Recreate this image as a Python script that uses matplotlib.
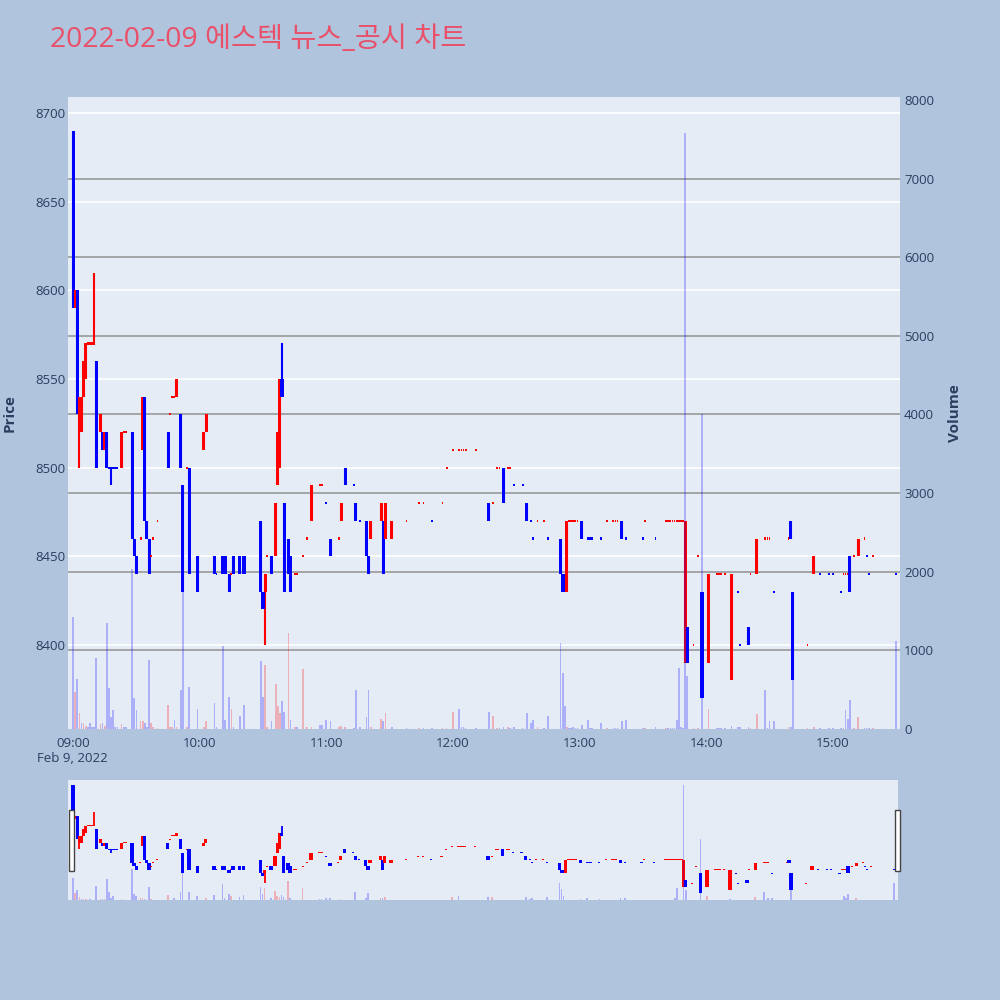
import matplotlib
matplotlib.use("Agg")
import matplotlib.pyplot as plt
from matplotlib.patches import Rectangle
import numpy as np

plt.rcParams['font.family'] = ['Open Sans', 'Noto Sans CJK KR', 'DejaVu Sans']

title = '2022-02-09 에스텍 뉴스_공시 차트'

# minutes after 09:00, OHLC, volume
minutes = [0, 1, 2, 3, 4, 5, 6, 7, 8, 9, 10, 11, 13, 14, 15, 16, 17, 18, 19, 20,
           21, 23, 24, 25, 28, 29, 30, 32, 33, 34, 35, 36, 37, 38, 40, 45, 46, 47, 48, 49,
           51, 52, 54, 55, 59, 62, 63, 67, 68, 71, 72, 74, 75, 76, 79, 81, 89, 90, 91, 92,
           94, 96, 97, 98, 99, 100, 102, 103, 105, 106, 109, 111, 113, 117, 118, 120, 122, 126, 127, 129,
           133, 134, 136, 139, 140, 141, 146, 147, 148, 151, 158, 164, 166, 170, 175, 177, 180, 183, 184, 185,
           186, 191, 197, 199, 201, 202, 204, 206, 207, 209, 213, 215, 217, 218, 220, 223, 225, 231, 232, 233,
           234, 235, 236, 237, 238, 239, 241, 244, 245, 246, 250, 253, 256, 257, 258, 260, 262, 270, 271, 276,
           281, 282, 283, 284, 285, 286, 287, 288, 289, 290, 291, 294, 296, 298, 301, 305, 306, 307, 309, 312,
           315, 316, 320, 321, 324, 328, 329, 330, 332, 339, 340, 341, 348, 351, 354, 358, 360, 364, 365, 366,
           367, 368, 370, 372, 375, 376, 377, 379, 390]
opens = [8690, 8590, 8600, 8520, 8520, 8540, 8550, 8570, 8570, 8570, 8570, 8560, 8520, 8520, 8510, 8520, 8500, 8500, 8500, 8500,
         8500, 8500, 8520, 8520, 8520, 8460, 8450, 8460, 8510, 8540, 8470, 8460, 8450, 8460, 8470, 8520, 8530, 8540, 8540, 8540,
         8530, 8490, 8500, 8500, 8450, 8510, 8520, 8450, 8440, 8450, 8450, 8440, 8440, 8450, 8450, 8450, 8470, 8430, 8430, 8450,
         8450, 8450, 8490, 8500, 8550, 8480, 8460, 8450, 8440, 8440, 8450, 8460, 8470, 8490, 8490, 8480, 8460, 8460, 8470, 8500,
         8490, 8480, 8470, 8470, 8450, 8460, 8470, 8470, 8460, 8460, 8470, 8480, 8480, 8470, 8480, 8500, 8510, 8510, 8510, 8510,
         8510, 8510, 8480, 8480, 8500, 8500, 8500, 8500, 8500, 8490, 8490, 8480, 8470, 8460, 8470, 8470, 8460, 8460, 8440, 8440,
         8430, 8470, 8470, 8470, 8470, 8470, 8470, 8460, 8460, 8460, 8460, 8470, 8470, 8470, 8470, 8470, 8460, 8460, 8470, 8460,
         8470, 8470, 8470, 8470, 8470, 8470, 8470, 8470, 8470, 8390, 8410, 8400, 8450, 8430, 8390, 8440, 8440, 8440, 8440, 8380,
         8430, 8400, 8410, 8440, 8440, 8460, 8460, 8460, 8430, 8460, 8470, 8430, 8400, 8440, 8440, 8440, 8440, 8430, 8440, 8440,
         8440, 8450, 8450, 8450, 8460, 8450, 8440, 8450, 8440]
highs = [8690, 8600, 8600, 8540, 8540, 8560, 8570, 8570, 8570, 8570, 8610, 8560, 8530, 8520, 8520, 8520, 8500, 8500, 8500, 8500,
         8500, 8520, 8520, 8520, 8520, 8460, 8450, 8460, 8540, 8540, 8470, 8460, 8450, 8460, 8470, 8520, 8530, 8540, 8540, 8550,
         8530, 8490, 8500, 8500, 8450, 8520, 8530, 8450, 8440, 8450, 8450, 8440, 8440, 8450, 8450, 8450, 8470, 8430, 8440, 8450,
         8450, 8480, 8520, 8550, 8570, 8480, 8460, 8450, 8440, 8440, 8450, 8460, 8490, 8490, 8490, 8480, 8460, 8460, 8480, 8500,
         8490, 8480, 8470, 8470, 8450, 8470, 8480, 8470, 8480, 8470, 8470, 8480, 8480, 8470, 8480, 8500, 8510, 8510, 8510, 8510,
         8510, 8510, 8480, 8480, 8500, 8500, 8500, 8500, 8500, 8490, 8490, 8480, 8470, 8460, 8470, 8470, 8460, 8460, 8440, 8440,
         8470, 8470, 8470, 8470, 8470, 8470, 8470, 8460, 8460, 8460, 8460, 8470, 8470, 8470, 8470, 8470, 8460, 8460, 8470, 8460,
         8470, 8470, 8470, 8470, 8470, 8470, 8470, 8470, 8470, 8470, 8410, 8400, 8450, 8430, 8440, 8440, 8440, 8440, 8440, 8440,
         8430, 8400, 8410, 8440, 8460, 8460, 8460, 8460, 8430, 8460, 8470, 8430, 8400, 8450, 8440, 8440, 8440, 8430, 8440, 8440,
         8440, 8450, 8450, 8460, 8460, 8450, 8440, 8450, 8440]
lows = [8590, 8590, 8530, 8500, 8520, 8540, 8550, 8570, 8570, 8570, 8570, 8500, 8520, 8510, 8510, 8500, 8500, 8490, 8500, 8500,
        8500, 8500, 8520, 8520, 8460, 8450, 8440, 8460, 8510, 8470, 8460, 8440, 8450, 8460, 8470, 8500, 8530, 8540, 8540, 8540,
        8500, 8430, 8500, 8440, 8430, 8510, 8520, 8440, 8440, 8440, 8440, 8430, 8440, 8440, 8440, 8440, 8430, 8420, 8400, 8450,
        8440, 8450, 8490, 8500, 8540, 8430, 8440, 8430, 8440, 8440, 8450, 8460, 8470, 8490, 8490, 8480, 8450, 8460, 8470, 8490,
        8490, 8470, 8470, 8450, 8440, 8460, 8470, 8440, 8460, 8460, 8470, 8480, 8480, 8470, 8480, 8500, 8510, 8510, 8510, 8510,
        8510, 8510, 8470, 8480, 8500, 8500, 8480, 8500, 8500, 8490, 8490, 8470, 8470, 8460, 8470, 8470, 8460, 8440, 8430, 8430,
        8430, 8470, 8470, 8470, 8470, 8470, 8460, 8460, 8460, 8460, 8460, 8470, 8470, 8470, 8470, 8460, 8460, 8460, 8470, 8460,
        8470, 8470, 8470, 8470, 8470, 8470, 8470, 8470, 8470, 8390, 8390, 8400, 8450, 8370, 8390, 8440, 8440, 8440, 8440, 8380,
        8430, 8400, 8400, 8440, 8440, 8460, 8460, 8460, 8430, 8460, 8460, 8380, 8400, 8440, 8440, 8440, 8440, 8430, 8440, 8440,
        8440, 8430, 8450, 8450, 8460, 8450, 8440, 8450, 8440]
closes = [8590, 8600, 8530, 8540, 8540, 8560, 8570, 8570, 8570, 8570, 8570, 8500, 8530, 8510, 8520, 8500, 8500, 8500, 8500, 8500,
          8500, 8520, 8520, 8520, 8460, 8450, 8440, 8460, 8540, 8470, 8460, 8440, 8450, 8460, 8470, 8500, 8530, 8540, 8540, 8550,
          8500, 8430, 8500, 8440, 8430, 8520, 8530, 8440, 8440, 8440, 8440, 8430, 8440, 8440, 8440, 8440, 8430, 8420, 8440, 8450,
          8440, 8480, 8520, 8550, 8540, 8430, 8440, 8430, 8440, 8440, 8450, 8460, 8490, 8490, 8490, 8480, 8450, 8460, 8480, 8490,
          8490, 8470, 8470, 8450, 8440, 8470, 8480, 8440, 8480, 8470, 8470, 8480, 8480, 8470, 8480, 8500, 8510, 8510, 8510, 8510,
          8510, 8510, 8470, 8480, 8500, 8500, 8480, 8500, 8500, 8490, 8490, 8470, 8470, 8460, 8470, 8470, 8460, 8440, 8430, 8430,
          8470, 8470, 8470, 8470, 8470, 8470, 8460, 8460, 8460, 8460, 8460, 8470, 8470, 8470, 8470, 8460, 8460, 8460, 8470, 8460,
          8470, 8470, 8470, 8470, 8470, 8470, 8470, 8470, 8470, 8470, 8390, 8400, 8450, 8370, 8440, 8440, 8440, 8440, 8440, 8440,
          8430, 8400, 8400, 8440, 8460, 8460, 8460, 8460, 8430, 8460, 8460, 8380, 8400, 8450, 8440, 8440, 8440, 8430, 8440, 8440,
          8440, 8430, 8450, 8460, 8460, 8450, 8440, 8450, 8440]
volumes = [1430, 470, 640, 200, 80, 80, 40, 30, 70, 20, 30, 900, 60, 80, 40, 1350, 520, 150, 240, 20,
           20, 60, 20, 20, 2030, 390, 240, 100, 100, 70, 20, 880, 80, 20, 10, 300, 20, 20, 120, 20,
           500, 1770, 30, 530, 260, 20, 100, 330, 30, 1060, 120, 410, 260, 20, 170, 300, 870, 410, 820, 20,
           100, 575, 290, 200, 360, 220, 1220, 120, 20, 20, 760, 20, 20, 50, 50, 120, 100, 20, 40, 20,
           10, 500, 30, 150, 490, 30, 130, 100, 200, 20, 10, 10, 10, 10, 10, 10, 220, 250, 30, 20,
           10, 10, 220, 170, 10, 10, 30, 30, 10, 30, 10, 200, 70, 120, 20, 10, 170, 1090, 710, 290,
           20, 10, 10, 30, 10, 10, 50, 120, 10, 10, 70, 10, 10, 10, 10, 100, 120, 10, 10, 30,
           10, 10, 10, 10, 10, 120, 770, 30, 10, 7580, 670, 10, 10, 4000, 250, 10, 10, 10, 10, 40,
           30, 30, 30, 10, 190, 500, 10, 100, 100, 20, 30, 630, 10, 30, 10, 10, 10, 10, 10, 240,
           130, 370, 10, 150, 10, 10, 10, 10, 1120]

x_ticks = [0, 60, 120, 180, 240, 300, 360]
x_labels = ['09:00', '10:00', '11:00', '12:00', '13:00', '14:00', '15:00']
price_ticks = [8400, 8450, 8500, 8550, 8600, 8650, 8700]
vol_ticks = [0, 1000, 2000, 3000, 4000, 5000, 6000, 7000, 8000]

t = np.array(minutes, dtype=float)
o = np.array(opens, dtype=float)
h = np.array(highs, dtype=float)
l = np.array(lows, dtype=float)
c = np.array(closes, dtype=float)
v = np.array(volumes, dtype=float)

# candle direction as plotly does it: open vs close, ties go by previous close
up = []
for i in range(len(c)):
    if c[i] != o[i]:
        up.append(c[i] > o[i])
    elif i > 0 and c[i] != c[i - 1]:
        up.append(c[i] > c[i - 1])
    else:
        up.append(up[-1] if i > 0 else False)
doji = o == c

prev = np.concatenate([[np.inf], c[:-1]])
vol_up = c > prev

bg = '#B0C4DE'
plot_bg = '#E5ECF6'
txt = '#2a3f5f'
RED = '#FF0000'
BLUE = '#0000FF'


def draw_candles(ax, body_w, doji_w, wick_lw, min_h):
    cols = [RED if u else BLUE for u in up]
    ax.vlines(t, l, h, colors=cols, linewidth=wick_lw, zorder=3)
    bottom = np.minimum(o, c)
    height = np.where(doji, min_h, np.abs(c - o))
    bottom = np.where(doji, bottom - min_h / 2, bottom)
    widths = np.where(doji, doji_w, body_w)
    ax.bar(t, height, bottom=bottom, width=widths, color=cols,
           linewidth=0, zorder=4)


def draw_volume(ax, w):
    vcols = [(1, 0, 0, 0.25) if u else (0, 0, 1, 0.25) for u in vol_up]
    ax.bar(t, v, width=w, color=vcols, linewidth=0, zorder=5)


fig = plt.figure(figsize=(10, 10), dpi=100, facecolor=bg)

xlo, xhi = -2.4, 391.8
ax = fig.add_axes([0.068, 0.271, 0.832, 0.632])
ax.set_facecolor(plot_bg)
ylo, yhi = 8352.6, 8709.0
ax.set_xlim(xlo, xhi)
ax.set_ylim(ylo, yhi)
vhi = 8038
for tk in price_ticks:
    ax.axhline(tk, color='white', linewidth=1.2, zorder=1)
# volume axis grid, drawn in price coordinates so it stays under the candles
for vt in vol_ticks[1:-1]:
    ax.axhline(ylo + vt / vhi * (yhi - ylo), color='#999999', linewidth=1.2, zorder=1.5)
draw_candles(ax, 1.45, 0.85, 1.5, 1.2)
for s in ax.spines.values():
    s.set_visible(False)
ax.set_yticks(price_ticks)
ax.set_yticklabels([str(p) for p in price_ticks], color=txt, fontsize=9.5)
ax.set_xticks(x_ticks)
ax.set_xticklabels(x_labels, color=txt, fontsize=9.5)
ax.tick_params(length=0, pad=6)
ax.tick_params(axis='y', pad=2)

ax2 = ax.twinx()
ax2.set_ylim(0, vhi)
ax2.set_xlim(xlo, xhi)
draw_volume(ax2, 0.8)
for s in ax2.spines.values():
    s.set_visible(False)
ax2.set_yticks(vol_ticks)
ax2.set_yticklabels([str(x) for x in vol_ticks], color=txt, fontsize=9.5)
ax2.tick_params(length=0, pad=3)

# range slider
sl = fig.add_axes([0.068, 0.100, 0.830, 0.120])
sl.set_facecolor(plot_bg)
sl.set_xlim(xlo, xhi)
sl.set_ylim(8350, 8706)
draw_candles(sl, 1.6, 1.0, 1.3, 3.0)
sl.set_xticks([])
sl.set_yticks([])
for s in sl.spines.values():
    s.set_visible(False)
sl2 = sl.twinx()
sl2.set_ylim(0, 7900)
sl2.set_xlim(xlo, xhi)
draw_volume(sl2, 0.8)
sl2.set_yticks([])
for s in sl2.spines.values():
    s.set_visible(False)

for hx in (0.069, 0.895):
    fig.patches.append(Rectangle((hx, 0.129), 0.005, 0.061, transform=fig.transFigure,
                                 facecolor='white', edgecolor='#444444', linewidth=1, zorder=10))

fig.text(0.05, 0.960, title, color='#E9506A', fontsize=20.4, va='center', ha='left')
fig.text(0.037, 0.242, 'Feb 9, 2022', color=txt, fontsize=9.5, va='center', ha='left')
fig.text(0.010, 0.587, 'Price', color=txt, fontsize=11, fontweight='bold',
         rotation=90, va='center', ha='center')
fig.text(0.955, 0.587, 'Volume', color=txt, fontsize=11, fontweight='bold',
         rotation=90, va='center', ha='center')

fig.savefig('out.png', dpi=100, facecolor=bg)
